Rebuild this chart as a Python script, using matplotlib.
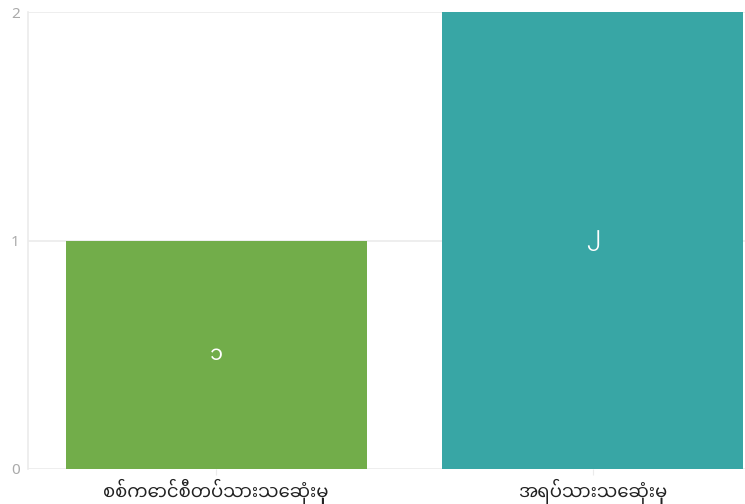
import matplotlib
matplotlib.use("Agg")
import matplotlib.pyplot as plt
from matplotlib import font_manager

categories = ["စစ်ကောင်စီတပ်သားသေဆုံးမှု", "အရပ်သားသေဆုံးမှု"]
values = [1, 2]
value_labels = ["၁", "၂"]
colors = ["#72ad4a", "#38a6a5"]
yticks = [0, 1, 2]

avail = {f.name for f in font_manager.fontManager.ttflist}
fams = [f for f in ["Noto Sans Myanmar", "Padauk", "Myanmar Text", "Noto Sans", "DejaVu Sans"] if f in avail]
plt.rcParams['font.family'] = fams

fig = plt.figure(figsize=(7.45, 5.04), dpi=100)
ax = fig.add_axes([28/745, 35/504, (781-28)/745, (469-12)/504])
x = list(range(len(categories)))
ax.bar(x, values, width=0.8, color=colors, zorder=2)
for xi, v, lab in zip(x, values, value_labels):
    ax.text(xi, v/2, lab, ha='center', va='center', color='white', fontsize=15, zorder=3)

ax.set_xlim(-0.5, 1.5)
ax.set_ylim(0, 2)
ax.set_yticks(yticks)
ax.set_yticklabels([str(t) for t in yticks])
ax.set_xticks(x)
ax.set_xticklabels(categories, fontsize=13, color='#222222')
ax.yaxis.grid(True, color='#ebebeb', linewidth=1.2, zorder=0)
ax.set_axisbelow(True)
for s in ['top', 'right', 'bottom']:
    ax.spines[s].set_visible(False)
ax.spines['left'].set_color('#ebebeb')
ax.spines['left'].set_linewidth(1.2)
ax.tick_params(axis='y', length=0, labelsize=11, labelcolor='#aaaaaa', pad=6)
ax.tick_params(axis='x', length=4, color='#ebebeb', pad=3)
fig.savefig("out.png", dpi=100)
